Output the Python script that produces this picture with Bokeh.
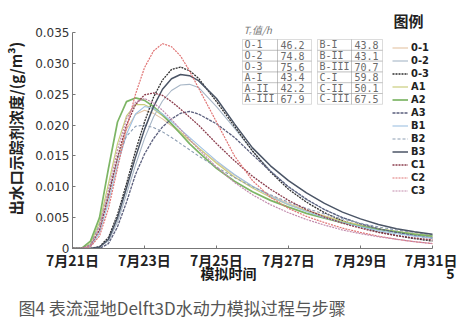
from bokeh.plotting import figure
from bokeh.models import (Range1d, FixedTicker, Legend, LegendItem, Label, BoxAnnotation,
                          Title, LinearAxis)
from bokeh.embed import file_html
from bokeh.resources import INLINE
import numpy as np

# ---------------- data ----------------
# time in days after 7/21 00:00
days = [0, 0.25, 0.5, 0.75, 1.0, 1.25, 1.5, 1.75, 2.0, 2.25, 2.5, 2.75, 3.0, 3.25, 3.5,
        4.0, 4.5, 5.0, 5.5, 6.0, 6.5, 7.0, 7.5, 8.0, 8.5, 9.0, 9.5, 10.0]

# tracer concentration at the outlet, in 0.001 g/m3
O1 = [0, 0, 0.4, 3.0, 8.5, 14.5, 19.3, 21.7, 22.4, 21.9, 21.0, 19.9, 18.7, 17.5, 16.3,
      14.0, 11.9, 10.1, 8.6, 7.3, 6.2, 5.3, 4.5, 3.8, 3.2, 2.7, 2.3, 1.9]
O2 = [0, 0, 0, 0.3, 1.2, 4.3, 8.8, 13.5, 17.8, 21.3, 23.9, 25.6, 26.5, 26.6, 26.1,
      23.0, 19.5, 15.8, 12.6, 10.0, 7.9, 6.3, 5.0, 4.0, 3.2, 2.6, 2.1, 1.7]
O3 = [0, 0, 0, 0.3, 1.8, 5.5, 10.5, 15.8, 20.5, 24.5, 27.3, 29.0, 29.4, 28.8, 27.6,
      23.8, 19.8, 15.8, 12.4, 9.6, 7.5, 5.8, 4.5, 3.5, 2.7, 2.1, 1.6, 1.2]
A1 = [0, 0, 0.8, 4.2, 10.5, 17.0, 21.5, 23.3, 23.3, 22.6, 21.5, 20.2, 18.9, 17.6, 16.3,
      13.8, 11.6, 9.8, 8.3, 7.1, 6.1, 5.2, 4.4, 3.8, 3.2, 2.8, 2.4, 2.1]
A2 = [0, 0, 1.2, 5.0, 13.0, 20.5, 23.8, 24.4, 24.0, 23.0, 21.7, 20.2, 18.6, 17.0, 15.6,
      13.0, 10.9, 9.2, 7.8, 6.7, 5.7, 4.9, 4.2, 3.6, 3.1, 2.7, 2.3, 2.0]
A3 = [0, 0, 0, 0, 0.8, 3.5, 7.5, 12.0, 15.3, 17.8, 19.7, 21.0, 21.9, 22.2, 21.8,
      20.2, 18.0, 15.2, 12.5, 10.0, 8.0, 6.3, 5.0, 4.0, 3.2, 2.6, 2.1, 1.7]
B1 = [0, 0, 0.3, 2.5, 7.5, 13.5, 18.5, 21.8, 23.0, 22.7, 21.8, 20.6, 19.3, 18.0, 16.7,
      14.2, 12.0, 10.1, 8.5, 7.1, 6.0, 5.0, 4.2, 3.5, 2.9, 2.4, 2.0, 1.7]
B2 = [0, 0, 0.6, 3.8, 9.0, 14.5, 18.2, 19.8, 20.0, 19.6, 18.9, 18.0, 17.0, 16.0, 15.0,
      13.2, 11.5, 10.0, 8.7, 7.5, 6.5, 5.6, 4.8, 4.1, 3.5, 3.0, 2.6, 2.2]
B3 = [0, 0, 0, 0.2, 1.5, 5.0, 9.8, 14.8, 19.3, 23.0, 25.8, 27.5, 28.2, 28.0, 27.2,
      24.3, 20.2, 16.3, 13.4, 11.0, 9.0, 7.3, 5.9, 4.8, 3.9, 3.2, 2.7, 2.3]
C1 = [0, 0, 0.5, 3.0, 8.5, 14.8, 20.0, 23.3, 24.9, 25.2, 24.8, 23.8, 22.6, 21.3, 20.0,
      17.0, 14.2, 11.7, 9.6, 7.8, 6.3, 5.1, 4.1, 3.3, 2.6, 2.1, 1.7, 1.4]
C2 = [0, 0, 0.3, 2.0, 6.5, 13.0, 19.5, 25.0, 29.3, 32.0, 33.2, 32.7, 31.2, 28.8, 26.0,
      20.5, 15.0, 11.0, 8.3, 6.5, 5.2, 4.2, 3.3, 2.6, 2.0, 1.5, 1.1, 0.8]
C3 = [0, 0, 0.5, 3.5, 9.5, 16.0, 21.0, 23.7, 24.3, 23.6, 22.4, 20.9, 19.3, 17.7, 16.1,
      13.2, 10.7, 8.7, 7.1, 5.8, 4.7, 3.8, 3.0, 2.4, 1.9, 1.5, 1.1, 0.8]

series_names = ["0-1", "0-2", "0-3", "A1", "A2", "A3", "B1", "B2", "B3", "C1", "C2", "C3"]
series_values = [O1, O2, O3, A1, A2, A3, B1, B2, B3, C1, C2, C3]

x_tick_days = [0, 2, 4, 6, 8, 10]
x_tick_labels = ["7月21日", "7月23日", "7月25日", "7月27日", "7月29日", "7月31日"]
y_ticks = [0, 0.005, 0.010, 0.015, 0.020, 0.025, 0.030, 0.035]
y_tick_labels = ["0", "0.005", "0.010", "0.015", "0.020", "0.025", "0.030", "0.035"]

# residence time table (h)
tr_title = "Tᵣ值/h"
tr_names_left = ["O-1", "O-2", "O-3", "A-I", "A-II", "A-III"]
tr_vals_left = ["46.2", "74.8", "75.6", "43.4", "42.2", "67.9"]
tr_names_right = ["B-I", "B-II", "B-III", "C-I", "C-II", "C-III"]
tr_vals_right = ["43.8", "43.1", "70.7", "59.8", "50.1", "67.5"]

x_title = "模拟时间"
y_title = "出水口示踪剂浓度/(g/m³)"
caption = "图4 表流湿地Delft3D水动力模拟过程与步骤"
page_mark = "5"
legend_title = "图例"

# ---------------- styles / layout ----------------
colors = ["#e3c3a3", "#a7b6c6", "#2e2e2e", "#c9cd7c", "#7db565", "#5a5e7c",
          "#9fc2e2", "#8c9db2", "#4b5566", "#8a3c4c", "#e07474", "#c28aac"]
dashes = ["solid", "solid", "2 1", "solid", "solid", "3 1",
          "solid", "3 2", "solid", "2 1", "2 1", "2 1"]
widths = [1.1, 1.1, 1.3, 1.2, 1.7, 1.3, 1.1, 1.1, 1.5, 1.3, 1.2, 1.2]

CJK = "Noto Sans CJK SC"
NARROW = "Liberation Sans Narrow, DejaVu Sans Condensed, Liberation Sans"
W, H = 457, 331
FL, FT, FB = 72, 8, 248          # frame left / top / bottom in canvas px
PX_PER_DAY = 36.0
Y_AT_035 = 32                    # canvas y of the 0.035 tick
X_END = 10.556                   # frame reaches a little past 7/31 (room for legend)
Y_END = 0.035 * (FB - FT) / (FB - Y_AT_035)
FR = FL + X_END * PX_PER_DAY

p = figure(width=W, height=H, output_backend="svg", toolbar_location=None,
           x_range=Range1d(0, X_END), y_range=Range1d(0, Y_END),
           min_border_left=FL, min_border_right=int(round(W - FR)),
           min_border_top=FT, min_border_bottom=H - FB)
p.outline_line_color = None
p.grid.visible = False
p.background_fill_color = "white"
p.border_fill_color = "white"

items = []
for name, vals, c, d, w in zip(series_names, series_values, colors, dashes, widths):
    r = p.line(days, np.array(vals) * 1e-3, line_color=c, line_dash=d, line_width=w)
    items.append(LegendItem(label=name, renderers=[r]))

# axes (drawn only over the data extent)
xa = p.xaxis[0]
xa.bounds = (x_tick_days[0], x_tick_days[-1])
xa.ticker = FixedTicker(ticks=x_tick_days)
xa.major_label_overrides = {d: l for d, l in zip(x_tick_days, x_tick_labels)}
xa.major_label_text_font = CJK
xa.major_label_text_font_style = "bold"
xa.major_label_text_font_size = "14px"
xa.major_label_text_color = "#222222"
xa.major_label_standoff = 1
xa.major_tick_in = 3
xa.major_tick_out = 0
xa.minor_tick_line_color = None
xa.axis_line_color = "#777777"
xa.major_tick_line_color = "#777777"

ya = p.yaxis[0]
ya.bounds = (y_ticks[0], y_ticks[-1])
ya.ticker = FixedTicker(ticks=y_ticks)
ya.major_label_overrides = {t: l for t, l in zip(y_ticks, y_tick_labels)}
ya.major_label_text_font = "DejaVu Sans"
ya.major_label_text_font_size = "12px"
ya.major_label_text_color = "#333333"
ya.major_label_standoff = 3
ya.major_tick_in = 3
ya.major_tick_out = 0
ya.minor_tick_line_color = None
ya.axis_line_color = "#777777"
ya.major_tick_line_color = "#777777"
ya.axis_label = y_title
ya.axis_label_text_font = CJK
ya.axis_label_text_font_style = "bold"
ya.axis_label_text_font_size = "15px"
ya.axis_label_text_color = "#222222"
ya.axis_label_standoff = 6

# second, line-less axis row: axis title (left of centre) and the page mark at far right
lab_pos = [(228 - FL) / PX_PER_DAY, (450 - FL) / PX_PER_DAY]
lab_axis = LinearAxis(ticker=FixedTicker(ticks=lab_pos),
                      major_label_overrides={lab_pos[0]: x_title, lab_pos[1]: page_mark},
                      axis_line_color=None, major_tick_line_color=None,
                      minor_tick_line_color=None, major_tick_in=0, major_tick_out=0,
                      major_label_standoff=-10, major_label_text_font=CJK,
                      major_label_text_font_style="bold", major_label_text_font_size="14px",
                      major_label_text_color="#1a1a1a")
p.add_layout(lab_axis, "below")


def sx(cx):
    return cx - FL


def sy(cy):
    return FB - cy


# series legend
legend = Legend(items=items, location=(sx(392), sy(197)),
                label_text_font=NARROW,
                label_text_font_style="bold", label_text_font_size="11px",
                label_text_color="#222222",
                glyph_width=16, glyph_height=9, label_height=9, spacing=0,
                label_standoff=3, padding=0, margin=0,
                border_line_color=None, background_fill_alpha=0)
p.add_layout(legend)
p.add_layout(Label(x=sx(393), y=sy(20), x_units="screen", y_units="screen",
                   text=legend_title, text_font=CJK, text_font_style="bold",
                   text_font_size="15px", text_color="#222222",
                   text_baseline="middle", text_align="left"))

# table of residence times
row_top, row_h = 39, 10.8
tables = [((242, 277, 311), tr_names_left, tr_vals_left),
          ((317, 351, 382), tr_names_right, tr_vals_right)]
for (c0, c1, c2), names, vals in tables:
    for i, (nm, v) in enumerate(zip(names, vals)):
        t = row_top + i * row_h
        b = t + row_h
        for l, r in ((c0, c1), (c1, c2)):
            p.add_layout(BoxAnnotation(left=sx(l), right=sx(r), top=sy(t), bottom=sy(b),
                                       left_units="screen", right_units="screen",
                                       top_units="screen", bottom_units="screen",
                                       fill_alpha=0, line_color="#8a8a8a", line_width=1))
        for txt, xl in ((nm, c0 + 2), (v, c1 + 3)):
            p.add_layout(Label(x=sx(xl), y=sy(t + row_h / 2), x_units="screen", y_units="screen",
                               text=txt, text_font="DejaVu Sans Mono", text_font_size="10px",
                               text_color="#6a6a6a", text_baseline="middle", text_align="left"))

p.add_layout(Label(x=sx(243), y=sy(29), x_units="screen", y_units="screen",
                   text=tr_title, text_font=CJK, text_font_size="10px",
                   text_font_style="italic", text_color="#777777",
                   text_baseline="middle", text_align="left"))

# caption under the chart
t_cap = Title(text=caption, align="left", offset=18 - FL, standoff=15,
              text_font=CJK, text_font_style="normal", text_font_size="17px",
              text_color="#555555")
p.add_layout(t_cap, "below")

open("out.html", "w").write(file_html(p, INLINE))
